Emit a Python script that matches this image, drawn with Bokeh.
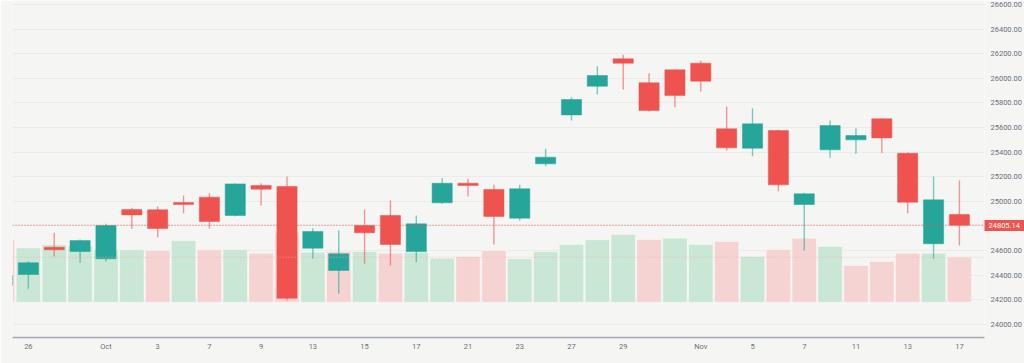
from bokeh.plotting import figure
from bokeh.models import Range1d, FixedTicker, PrintfTickFormatter, Span, LinearAxis
from bokeh.embed import file_html
from bokeh.resources import INLINE

# ---- data ----
idx = list(range(38))
opens = [24315, 24404, 24626, 24591, 24532, 24933, 24930, 24989, 25033, 24884,
         25128, 25120, 24618, 24437, 24802, 24884, 24591, 24987, 25146, 25095,
         24862, 25304, 25702, 25935, 26158, 25963, 26068, 26122, 25589, 25431,
         25575, 24973, 25418, 25499, 25670, 25390, 24654, 24892]
highs = [24410, 24512, 24743, 24689, 24816, 24946, 24957, 25046, 25065, 25146,
         25146, 25201, 24780, 24762, 24933, 25006, 24884, 25187, 25182, 25133,
         25133, 25426, 25846, 26098, 26190, 26041, 26071, 26144, 25770, 25756,
         25582, 25068, 25656, 25593, 25672, 25398, 25201, 25168]
lows = [24300, 24288, 24550, 24499, 24510, 24776, 24707, 24902, 24776, 24876,
        24966, 24193, 24532, 24247, 24491, 24477, 24504, 24979, 25038, 24648,
        24843, 25285, 25656, 25867, 25908, 25730, 25764, 25892, 25412, 25366,
        25081, 24599, 25353, 25385, 25393, 24902, 24532, 24640]
closes = [24396, 24499, 24605, 24680, 24802, 24889, 24778, 24973, 24835, 25141,
          25098, 24211, 24754, 24572, 24743, 24648, 24816, 25146, 25128, 24876,
          25101, 25358, 25827, 26022, 26122, 25737, 25859, 25976, 25434, 25629,
          25133, 25060, 25615, 25534, 25515, 24992, 25011, 24805.14]
volumes = [627, 542, 575, 564, 524, 524, 517, 615, 524, 527,
           490, 700, 500, 507, 507, 490, 500, 440, 457, 517,
           434, 507, 577, 624, 677, 627, 640, 577, 607, 457,
           527, 640, 557, 367, 407, 490, 490, 450]
volume_up = [0, 1, 1, 1, 1, 1, 0, 1, 0, 1,
             0, 0, 1, 0, 1, 0, 1, 1, 0, 0,
             1, 1, 1, 1, 1, 0, 1, 1, 0, 1,
             0, 0, 1, 0, 0, 0, 1, 0]
tick_positions = [1, 4, 6, 8, 10, 12, 14, 16, 18, 20, 22, 24, 27, 29, 31, 33, 35, 37]
tick_labels = ["26", "Oct", "3", "7", "9", "13", "15", "17", "21", "23",
               "27", "29", "Nov", "5", "7", "11", "13", "17"]
price_ticks = list(range(24000, 26601, 200))
last_price = 24805.14

UP = "#26a69a"
DOWN = "#ef5350"
BG = "#f5f6f4"
FONT = "Roboto"

colors = [UP if c >= o else DOWN for o, c in zip(opens, closes)]
body_top = [max(o, c) for o, c in zip(opens, closes)]
body_bot = [min(o, c) for o, c in zip(opens, closes)]
vcolors = ["#c9e7d4" if u else "#f6d3d3" for u in volume_up]

X_END = 37.97
p = figure(width=1024, height=363, output_backend="svg", toolbar_location=None,
           x_range=Range1d(0.386, X_END), y_range=Range1d(23892, 26632),
           y_axis_location="right", min_border_left=12, min_border_top=0,
           min_border_bottom=26, min_border_right=0)
p.background_fill_color = BG
p.border_fill_color = BG
p.outline_line_color = None

p.extra_y_ranges = {"vol": Range1d(-353, 3017)}

# volume
p.vbar(x=idx, width=0.94, top=volumes, bottom=0, y_range_name="vol",
       fill_color=vcolors, line_color="#ffffff", line_alpha=0.35, line_width=1)

# candles
p.segment(x0=idx, y0=lows, x1=idx, y1=highs, line_color=colors, line_alpha=0.6,
          line_width=1.4)
p.vbar(x=idx, width=0.78, top=body_top, bottom=body_bot, fill_color=colors,
       line_color=colors, line_alpha=0.5, line_width=1)

# last price / last volume lines
p.add_layout(Span(location=last_price, dimension="width", line_color=DOWN,
                  line_dash="1 2", line_width=1, line_alpha=1.0))
p.add_layout(Span(location=volumes[-1], dimension="width", y_range_name="vol",
                  line_color="#efaaaa", line_dash="1 2", line_width=1, line_alpha=0.8))

# axes
ya = p.yaxis[0]
ya.ticker = FixedTicker(ticks=price_ticks)
ya.formatter = PrintfTickFormatter(format="%.2f")
ya.axis_line_color = None
ya.major_tick_line_color = None
ya.major_tick_out = 0
ya.minor_tick_line_color = None
ya.major_label_text_font = FONT
ya.major_label_text_font_size = "7.5px"
ya.major_label_text_color = "#6b6e78"
ya.major_label_standoff = 6

# last-price tag on the price scale: a second right axis of ~zero width whose
# single tick points back inward as a red box, with its value in white
tag = LinearAxis(ticker=FixedTicker(ticks=[last_price]),
                 formatter=PrintfTickFormatter(format="%.2f"))
tag.axis_line_color = None
tag.minor_tick_line_color = None
tag.major_tick_line_color = DOWN
tag.major_tick_line_width = 11
tag.major_tick_in = 40
tag.major_tick_out = 0
tag.major_label_standoff = -36
tag.major_label_text_color = "white"
tag.major_label_text_font = FONT
tag.major_label_text_font_size = "7.5px"
p.add_layout(tag, "right")

xa = p.xaxis[0]
xa.ticker = FixedTicker(ticks=tick_positions)
xa.major_label_overrides = {t: l for t, l in zip(tick_positions, tick_labels)}
xa.axis_line_color = "#a4a7b2"
xa.axis_line_width = 1.5
xa.major_tick_line_color = None
xa.major_tick_out = 0
xa.minor_tick_line_color = None
xa.major_label_text_font = FONT
xa.major_label_text_font_size = "7.5px"
xa.major_label_text_color = "#6b6e78"
xa.major_label_standoff = 4

p.xgrid.grid_line_color = None
p.ygrid.grid_line_color = "#eaece9"
p.ygrid.grid_line_width = 1

open("out.html", "w").write(file_html(p, INLINE))
